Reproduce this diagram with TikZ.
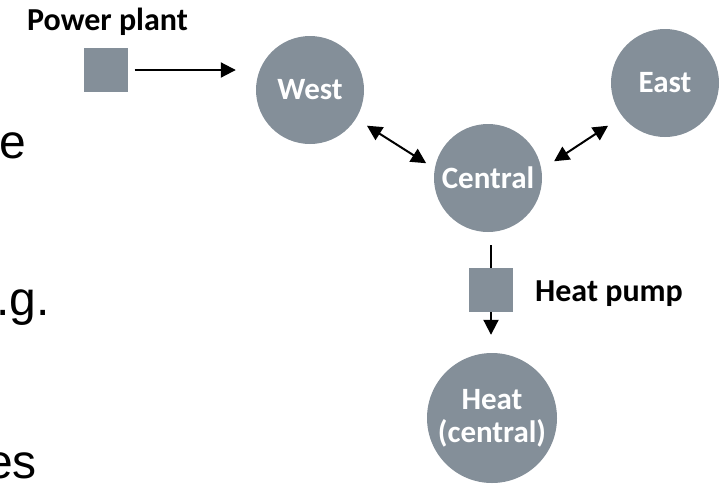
\documentclass[tikz,border=0pt]{standalone}
\usepackage{fontspec}
\setmainfont{Carlito}
\newfontfamily\arialfont{Liberation Sans}
\usepackage{tikz}
\usetikzlibrary{arrows.meta}
\usepackage{xcolor}

\definecolor{nodegray}{RGB}{132,143,153}

\tikzset{
  region/.style={circle, fill=nodegray, inner sep=0pt, minimum size=108pt,
    text=white, font=\fontsize{31}{33}\selectfont\bfseries, align=center},
  unit/.style={rectangle, fill=nodegray, inner sep=0pt, minimum size=44pt},
  tag/.style={font=\fontsize{32}{34}\selectfont\bfseries},
  slidetext/.style={anchor=base east, inner sep=0pt, font=\arialfont\fontsize{48}{52}\selectfont},
  flow/.style={line width=2pt, -{Triangle[length=15pt,width=15pt]}},
  both/.style={line width=2pt, {Triangle[length=15pt,width=15pt]}-{Triangle[length=15pt,width=15pt]}},
}

\begin{document}
\begin{tikzpicture}[x=1pt,y=-1pt]

\useasboundingbox (0,0) rectangle (723,483);

% Slide text running in from the left
\begin{scope}
\clip (0,0) rectangle (723,483);
\node[slidetext] (txta) at (26,158) {e};
\node[slidetext] (txtb) at (50,315) {.g.};
\node[slidetext] (txtc) at (37,478) {es};
\end{scope}

% Regions
\node[region] (west) at (310,90) {West};
\node[region] (central) at (488,178) {Central};
\node[region] (east) at (665,83) {East};
\node[region, minimum size=130pt] (heat) at (492,418) {Heat\\(central)};

% Units
\node[unit] (plant) at (105.5,70) {};
\node[tag, anchor=base] (plantlbl) at (107.5,30) {Power plant};
\node[unit] (pump) at (491,290) {};
\node[tag, anchor=west, inner sep=0pt] (pumplbl) at (535,294) {Heat pump};

% Connections
\draw[flow, shorten <=7pt, shorten >=20pt] (plant) -- (west.west |- plant);
\draw[both, shorten <=13pt, shorten >=10pt] (west.-32) -- (central.170);
\draw[both, shorten <=15pt, shorten >=17pt] (central.9) -- (east.218);
\draw[line width=2pt, shorten <=13pt] (pump.north |- central.south) -- (pump.north);
\draw[flow, shorten >=18pt] (pump.south) -- (pump.south |- heat.north);

\end{tikzpicture}
\end{document}
